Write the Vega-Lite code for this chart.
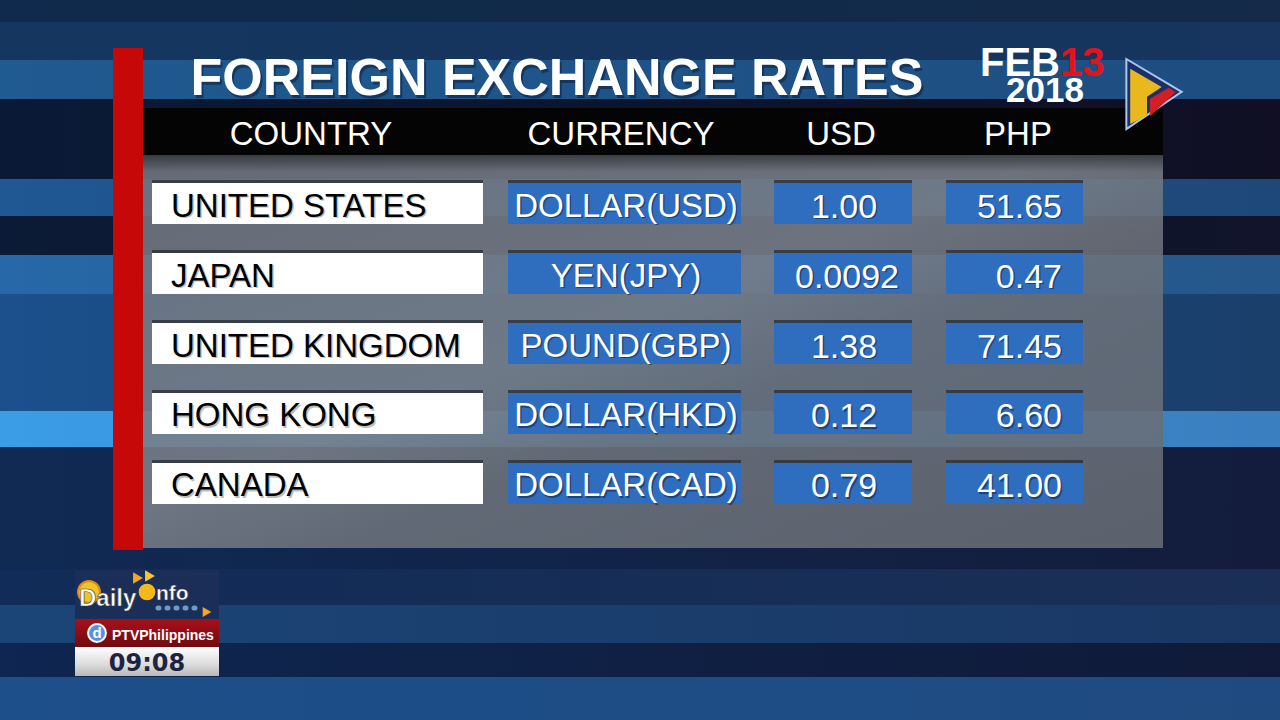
{
  "$schema": "https://vega.github.io/schema/vega-lite/v6.json",
  "width": 1280,
  "height": 720,
  "padding": 0,
  "autosize": {"type": "fit", "contains": "padding"},
  "background": "#10223f",
  "config": {
    "view": {"stroke": null},
    "axis": {"disable": true},
    "text": {"font": "Liberation Sans"}
  },
  "resolve": {"scale": {"y": "independent"}},
  "layer": [
    {
      "data": {"values": [{}]},
      "layer": [
        {
          "mark": {"type": "rect", "fill": {"gradient": "linear", "x1": 0, "y1": 0, "x2": 1, "y2": 0, "stops": [{"offset": 0, "color": "#0f2a4c"}, {"offset": 1, "color": "#142a48"}]}},
          "encoding": {
            "x": {"datum": 0, "type": "quantitative", "scale": {"domain": [0, 1280], "nice": false, "zero": false}, "axis": null},
            "x2": {"datum": 1280},
            "y": {"datum": 0, "type": "quantitative", "scale": {"domain": [0, 720], "nice": false, "zero": false, "reverse": true}, "axis": null},
            "y2": {"datum": 22}
          }
        },
        {
          "mark": {"type": "rect", "fill": {"gradient": "linear", "x1": 0, "y1": 0, "x2": 1, "y2": 0, "stops": [{"offset": 0, "color": "#14365f"}, {"offset": 1, "color": "#17355e"}]}},
          "encoding": {"x": {"datum": 0}, "x2": {"datum": 1280}, "y": {"datum": 22}, "y2": {"datum": 60}}
        },
        {
          "mark": {"type": "rect", "fill": {"gradient": "linear", "x1": 0, "y1": 0, "x2": 1, "y2": 0, "stops": [{"offset": 0, "color": "#1f5a90"}, {"offset": 1, "color": "#1e4d80"}]}},
          "encoding": {"x": {"datum": 0}, "x2": {"datum": 1280}, "y": {"datum": 60}, "y2": {"datum": 99}}
        },
        {
          "mark": {"type": "rect", "fill": {"gradient": "linear", "x1": 0, "y1": 0, "x2": 1, "y2": 0, "stops": [{"offset": 0, "color": "#0a1a36"}, {"offset": 1, "color": "#100f24"}]}},
          "encoding": {"x": {"datum": 0}, "x2": {"datum": 1280}, "y": {"datum": 99}, "y2": {"datum": 179}}
        },
        {
          "mark": {"type": "rect", "fill": {"gradient": "linear", "x1": 0, "y1": 0, "x2": 1, "y2": 0, "stops": [{"offset": 0, "color": "#1f5893"}, {"offset": 1, "color": "#1e4878"}]}},
          "encoding": {"x": {"datum": 0}, "x2": {"datum": 1280}, "y": {"datum": 179}, "y2": {"datum": 216}}
        },
        {
          "mark": {"type": "rect", "fill": {"gradient": "linear", "x1": 0, "y1": 0, "x2": 1, "y2": 0, "stops": [{"offset": 0, "color": "#0b1a36"}, {"offset": 1, "color": "#11142a"}]}},
          "encoding": {"x": {"datum": 0}, "x2": {"datum": 1280}, "y": {"datum": 216}, "y2": {"datum": 255}}
        },
        {
          "mark": {"type": "rect", "fill": {"gradient": "linear", "x1": 0, "y1": 0, "x2": 1, "y2": 0, "stops": [{"offset": 0, "color": "#2768a8"}, {"offset": 1, "color": "#25578a"}]}},
          "encoding": {"x": {"datum": 0}, "x2": {"datum": 1280}, "y": {"datum": 255}, "y2": {"datum": 294}}
        },
        {
          "mark": {"type": "rect", "fill": {"gradient": "linear", "x1": 0, "y1": 0, "x2": 1, "y2": 0, "stops": [{"offset": 0, "color": "#1b508c"}, {"offset": 1, "color": "#1a3f6b"}]}},
          "encoding": {"x": {"datum": 0}, "x2": {"datum": 1280}, "y": {"datum": 294}, "y2": {"datum": 411}}
        },
        {
          "mark": {"type": "rect", "fill": {"gradient": "linear", "x1": 0, "y1": 0, "x2": 1, "y2": 0, "stops": [{"offset": 0, "color": "#3a9de6"}, {"offset": 1, "color": "#3a7fc0"}]}},
          "encoding": {"x": {"datum": 0}, "x2": {"datum": 1280}, "y": {"datum": 411}, "y2": {"datum": 447}}
        },
        {
          "mark": {"type": "rect", "fill": {"gradient": "linear", "x1": 0, "y1": 0, "x2": 1, "y2": 0, "stops": [{"offset": 0, "color": "#102a54"}, {"offset": 1, "color": "#131c3c"}]}},
          "encoding": {"x": {"datum": 0}, "x2": {"datum": 1280}, "y": {"datum": 447}, "y2": {"datum": 569}}
        },
        {
          "mark": {"type": "rect", "fill": {"gradient": "linear", "x1": 0, "y1": 0, "x2": 1, "y2": 0, "stops": [{"offset": 0, "color": "#112c58"}, {"offset": 1, "color": "#1b2f55"}]}},
          "encoding": {"x": {"datum": 0}, "x2": {"datum": 1280}, "y": {"datum": 569}, "y2": {"datum": 605}}
        },
        {
          "mark": {"type": "rect", "fill": {"gradient": "linear", "x1": 0, "y1": 0, "x2": 1, "y2": 0, "stops": [{"offset": 0, "color": "#1a4577"}, {"offset": 1, "color": "#1a3763"}]}},
          "encoding": {"x": {"datum": 0}, "x2": {"datum": 1280}, "y": {"datum": 605}, "y2": {"datum": 643}}
        },
        {
          "mark": {"type": "rect", "fill": {"gradient": "linear", "x1": 0, "y1": 0, "x2": 1, "y2": 0, "stops": [{"offset": 0, "color": "#0e2650"}, {"offset": 1, "color": "#101a38"}]}},
          "encoding": {"x": {"datum": 0}, "x2": {"datum": 1280}, "y": {"datum": 643}, "y2": {"datum": 677}}
        },
        {
          "mark": {"type": "rect", "fill": {"gradient": "linear", "x1": 0, "y1": 0, "x2": 1, "y2": 0, "stops": [{"offset": 0, "color": "#1d4f8a"}, {"offset": 1, "color": "#1e4a80"}]}},
          "encoding": {"x": {"datum": 0}, "x2": {"datum": 1280}, "y": {"datum": 677}, "y2": {"datum": 720}}
        },
        {
          "mark": {"type": "rect", "opacity": 0.88, "fill": {"gradient": "linear", "x1": 0, "y1": 0, "x2": 1, "y2": 1, "stops": [{"offset": 0, "color": "#70767f"}, {"offset": 0.45, "color": "#7a8089"}, {"offset": 0.6, "color": "#6c727b"}, {"offset": 1, "color": "#656b74"}]}},
          "encoding": {"x": {"datum": 143}, "x2": {"datum": 1163}, "y": {"datum": 155}, "y2": {"datum": 548}}
        },
        {
          "mark": {"type": "rect", "fill": {"gradient": "linear", "x1": 0, "y1": 0, "x2": 0, "y2": 1, "stops": [{"offset": 0, "color": "rgba(0,0,0,0.45)"}, {"offset": 1, "color": "rgba(0,0,0,0)"}]}},
          "encoding": {"x": {"datum": 143}, "x2": {"datum": 1163}, "y": {"datum": 155}, "y2": {"datum": 172}}
        },
        {
          "mark": {"type": "rect", "fill": "#040404"},
          "encoding": {"x": {"datum": 143}, "x2": {"datum": 1163}, "y": {"datum": 108}, "y2": {"datum": 155}}
        },
        {
          "mark": {"type": "rect", "fill": "#c70808"},
          "encoding": {"x": {"datum": 113}, "x2": {"datum": 143}, "y": {"datum": 48}, "y2": {"datum": 550}}
        },
        {
          "mark": {"type": "text", "text": "FOREIGN EXCHANGE RATES", "fontSize": 52, "fontWeight": "bold", "align": "center", "baseline": "alphabetic", "fill": "#08122a", "opacity": 0.45, "dx": 2, "dy": 3},
          "encoding": {"x": {"datum": 557}, "y": {"datum": 95}}
        },
        {
          "mark": {"type": "text", "text": "FOREIGN EXCHANGE RATES", "fontSize": 52, "fontWeight": "bold", "align": "center", "baseline": "alphabetic", "fill": "#ffffff"},
          "encoding": {"x": {"datum": 557}, "y": {"datum": 95}}
        },
        {
          "mark": {"type": "text", "text": "COUNTRY", "fontSize": 33, "align": "center", "baseline": "alphabetic", "fill": "#ffffff"},
          "encoding": {"x": {"datum": 311}, "y": {"datum": 145}}
        },
        {
          "mark": {"type": "text", "text": "CURRENCY", "fontSize": 33, "align": "center", "baseline": "alphabetic", "fill": "#ffffff"},
          "encoding": {"x": {"datum": 621}, "y": {"datum": 145}}
        },
        {
          "mark": {"type": "text", "text": "USD", "fontSize": 33, "align": "center", "baseline": "alphabetic", "fill": "#ffffff"},
          "encoding": {"x": {"datum": 841}, "y": {"datum": 145}}
        },
        {
          "mark": {"type": "text", "text": "PHP", "fontSize": 33, "align": "center", "baseline": "alphabetic", "fill": "#ffffff"},
          "encoding": {"x": {"datum": 1018}, "y": {"datum": 145}}
        },
        {
          "mark": {"type": "text", "text": "FEB", "fontSize": 40, "fontWeight": "bold", "align": "right", "baseline": "alphabetic", "fill": "#ffffff"},
          "encoding": {"x": {"datum": 1060}, "y": {"datum": 76}}
        },
        {
          "mark": {"type": "text", "text": "13", "fontSize": 40, "fontWeight": "bold", "align": "left", "baseline": "alphabetic", "fill": "#e0141b"},
          "encoding": {"x": {"datum": 1060}, "y": {"datum": 76}}
        },
        {
          "mark": {"type": "text", "text": "2018", "fontSize": 35, "fontWeight": "bold", "align": "center", "baseline": "alphabetic", "fill": "#ffffff"},
          "encoding": {"x": {"datum": 1045}, "y": {"datum": 102}}
        },
        {
          "mark": {"type": "point", "shape": "M -0.79 -1 L 0.79 -0.06 L -0.79 1 Z", "filled": true, "fill": "#1d2f6b", "stroke": "#a7c8ea", "strokeWidth": 2, "size": 4900, "opacity": 1},
          "encoding": {"x": {"datum": 1154}, "y": {"datum": 94}}
        },
        {
          "mark": {"type": "point", "shape": "M -0.68 -0.72 L 0.22 -0.2 L -0.2 0.08 L -0.2 0.62 L -0.68 0.86 Z", "filled": true, "fill": "#e8b81e", "size": 4900, "opacity": 1},
          "encoding": {"x": {"datum": 1154}, "y": {"datum": 94}}
        },
        {
          "mark": {"type": "point", "shape": "M -0.12 0.14 L 0.42 -0.18 L 0.62 -0.06 L -0.12 0.64 Z", "filled": true, "fill": "#d21f26", "size": 4900, "opacity": 1},
          "encoding": {"x": {"datum": 1154}, "y": {"datum": 94}}
        },
        {
          "mark": {"type": "rect", "fill": "#1b2e58"},
          "encoding": {"x": {"datum": 75}, "x2": {"datum": 219}, "y": {"datum": 570}, "y2": {"datum": 619}}
        },
        {
          "mark": {"type": "rect", "fill": {"gradient": "linear", "x1": 0, "y1": 0, "x2": 0, "y2": 1, "stops": [{"offset": 0, "color": "#a8101a"}, {"offset": 1, "color": "#700a0f"}]}},
          "encoding": {"x": {"datum": 75}, "x2": {"datum": 219}, "y": {"datum": 619}, "y2": {"datum": 647}}
        },
        {
          "mark": {"type": "rect", "fill": {"gradient": "linear", "x1": 0, "y1": 0, "x2": 0, "y2": 1, "stops": [{"offset": 0, "color": "#ffffff"}, {"offset": 0.6, "color": "#dcdcdc"}, {"offset": 1, "color": "#b8b8b8"}]}},
          "encoding": {"x": {"datum": 75}, "x2": {"datum": 219}, "y": {"datum": 647}, "y2": {"datum": 676}}
        },
        {
          "mark": {"type": "point", "shape": "circle", "filled": true, "fill": "#f2c12e", "stroke": "#e08a10", "strokeWidth": 2, "size": 480, "opacity": 1},
          "encoding": {"x": {"datum": 89}, "y": {"datum": 592}}
        },
        {
          "mark": {"type": "point", "shape": "triangle-right", "filled": true, "fill": "#f5a623", "size": 130, "opacity": 1},
          "encoding": {"x": {"datum": 138}, "y": {"datum": 578}}
        },
        {
          "mark": {"type": "point", "shape": "triangle-right", "filled": true, "fill": "#f7c530", "size": 130, "opacity": 1},
          "encoding": {"x": {"datum": 150}, "y": {"datum": 576}}
        },
        {
          "mark": {"type": "point", "shape": "triangle-right", "filled": true, "fill": "#f5a623", "size": 100, "opacity": 1},
          "encoding": {"x": {"datum": 207}, "y": {"datum": 612}}
        },
        {
          "mark": {"type": "text", "text": "Daily", "fontSize": 24, "fontWeight": "bold", "align": "left", "baseline": "alphabetic", "fill": "#ffffff", "stroke": "#3a3a3a", "strokeWidth": 0.6},
          "encoding": {"x": {"datum": 79}, "y": {"datum": 606}}
        },
        {
          "mark": {"type": "point", "shape": "circle", "filled": true, "fill": "#f5b81c", "size": 280, "opacity": 1},
          "encoding": {"x": {"datum": 147}, "y": {"datum": 592}}
        },
        {
          "mark": {"type": "text", "text": "nfo", "fontSize": 21, "fontWeight": "bold", "align": "left", "baseline": "alphabetic", "fill": "#ffffff", "stroke": "#3a3a3a", "strokeWidth": 0.5},
          "encoding": {"x": {"datum": 156}, "y": {"datum": 600}}
        },
        {
          "mark": {"type": "rule", "stroke": "#6a9cc4", "strokeWidth": 5, "strokeDash": [1, 8], "strokeCap": "round"},
          "encoding": {"x": {"datum": 158}, "x2": {"datum": 200}, "y": {"datum": 608}}
        },
        {
          "mark": {"type": "point", "shape": "circle", "filled": true, "fill": "#5b8fdc", "stroke": "#ffffff", "strokeWidth": 2, "size": 320, "opacity": 1},
          "encoding": {"x": {"datum": 97}, "y": {"datum": 633}}
        },
        {
          "mark": {"type": "text", "text": "d", "fontSize": 15, "fontWeight": "bold", "align": "center", "baseline": "middle", "fill": "#ffffff"},
          "encoding": {"x": {"datum": 97}, "y": {"datum": 633}}
        },
        {
          "mark": {"type": "text", "text": "PTVPhilippines", "fontSize": 14, "fontWeight": "bold", "align": "left", "baseline": "alphabetic", "fill": "#ffffff"},
          "encoding": {"x": {"datum": 112}, "y": {"datum": 640}}
        },
        {
          "mark": {"type": "text", "text": "09:08", "font": "DejaVu Sans", "fontSize": 24, "fontWeight": "bold", "align": "center", "baseline": "alphabetic", "fill": "#1d2442"},
          "encoding": {"x": {"datum": 147}, "y": {"datum": 671}}
        }
      ]
    },
    {
      "data": {
        "values": [
          {"country": "UNITED STATES", "currency": "DOLLAR(USD)", "usd": 1.00, "php": 51.65},
          {"country": "JAPAN", "currency": "YEN(JPY)", "usd": 0.0092, "php": 0.47},
          {"country": "UNITED KINGDOM", "currency": "POUND(GBP)", "usd": 1.38, "php": 71.45},
          {"country": "HONG KONG", "currency": "DOLLAR(HKD)", "usd": 0.12, "php": 6.60},
          {"country": "CANADA", "currency": "DOLLAR(CAD)", "usd": 0.79, "php": 41.00}
        ]
      },
      "encoding": {
        "y": {
          "field": "country",
          "type": "nominal",
          "sort": null,
          "scale": {
            "domain": ["UNITED STATES", "JAPAN", "UNITED KINGDOM", "HONG KONG", "CANADA"],
            "range": [183, 504],
            "paddingInner": 0.414,
            "paddingOuter": 0
          },
          "axis": null
        }
      },
      "layer": [
        {"mark": {"type": "rect", "fill": "#2a3038", "opacity": 0.8, "yOffset": -3}, "encoding": {"x": {"datum": 152}, "x2": {"datum": 483}}},
        {"mark": {"type": "rect", "fill": "#2a3038", "opacity": 0.8, "yOffset": -3}, "encoding": {"x": {"datum": 508}, "x2": {"datum": 741}}},
        {"mark": {"type": "rect", "fill": "#2a3038", "opacity": 0.8, "yOffset": -3}, "encoding": {"x": {"datum": 774}, "x2": {"datum": 912}}},
        {"mark": {"type": "rect", "fill": "#2a3038", "opacity": 0.8, "yOffset": -3}, "encoding": {"x": {"datum": 946}, "x2": {"datum": 1083}}},
        {"mark": {"type": "rect", "fill": "#ffffff"}, "encoding": {"x": {"datum": 152}, "x2": {"datum": 483}}},
        {"mark": {"type": "rect", "fill": "#2f6dbf"}, "encoding": {"x": {"datum": 508}, "x2": {"datum": 741}}},
        {"mark": {"type": "rect", "fill": "#2f6dbf"}, "encoding": {"x": {"datum": 774}, "x2": {"datum": 912}}},
        {"mark": {"type": "rect", "fill": "#2f6dbf"}, "encoding": {"x": {"datum": 946}, "x2": {"datum": 1083}}},
        {
          "mark": {"type": "text", "fontSize": 33, "align": "left", "baseline": "alphabetic", "dx": 1.5, "dy": 14.5, "fill": "#000000", "opacity": 0.25},
          "encoding": {"x": {"datum": 171}, "text": {"field": "country"}}
        },
        {
          "mark": {"type": "text", "fontSize": 33, "align": "left", "baseline": "alphabetic", "dy": 13, "fill": "#000000"},
          "encoding": {"x": {"datum": 171}, "text": {"field": "country"}}
        },
        {
          "mark": {"type": "text", "fontSize": 33, "align": "center", "baseline": "alphabetic", "dx": 1.5, "dy": 14.5, "fill": "#0a1a35", "opacity": 0.5},
          "encoding": {"x": {"datum": 626}, "text": {"field": "currency"}}
        },
        {
          "mark": {"type": "text", "fontSize": 33, "align": "center", "baseline": "alphabetic", "dy": 13, "fill": "#ffffff"},
          "encoding": {"x": {"datum": 626}, "text": {"field": "currency"}}
        },
        {
          "transform": [{"filter": "datum.usd >= 0.01"}],
          "mark": {"type": "text", "fontSize": 34, "align": "center", "baseline": "alphabetic", "dx": 1.5, "dy": 15.5, "fill": "#0a1a35", "opacity": 0.5},
          "encoding": {"x": {"datum": 844}, "text": {"field": "usd", "type": "quantitative", "format": ".2f"}}
        },
        {
          "transform": [{"filter": "datum.usd >= 0.01"}],
          "mark": {"type": "text", "fontSize": 34, "align": "center", "baseline": "alphabetic", "dy": 14, "fill": "#ffffff"},
          "encoding": {"x": {"datum": 844}, "text": {"field": "usd", "type": "quantitative", "format": ".2f"}}
        },
        {
          "transform": [{"filter": "datum.usd < 0.01"}],
          "mark": {"type": "text", "fontSize": 34, "align": "center", "baseline": "alphabetic", "dx": 1.5, "dy": 15.5, "fill": "#0a1a35", "opacity": 0.5},
          "encoding": {"x": {"datum": 847}, "text": {"field": "usd", "type": "quantitative", "format": ".4f"}}
        },
        {
          "transform": [{"filter": "datum.usd < 0.01"}],
          "mark": {"type": "text", "fontSize": 34, "align": "center", "baseline": "alphabetic", "dy": 14, "fill": "#ffffff"},
          "encoding": {"x": {"datum": 847}, "text": {"field": "usd", "type": "quantitative", "format": ".4f"}}
        },
        {
          "mark": {"type": "text", "fontSize": 34, "align": "right", "baseline": "alphabetic", "dx": 1.5, "dy": 15.5, "fill": "#0a1a35", "opacity": 0.5},
          "encoding": {"x": {"datum": 1062}, "text": {"field": "php", "type": "quantitative", "format": ".2f"}}
        },
        {
          "mark": {"type": "text", "fontSize": 34, "align": "right", "baseline": "alphabetic", "dy": 14, "fill": "#ffffff"},
          "encoding": {"x": {"datum": 1062}, "text": {"field": "php", "type": "quantitative", "format": ".2f"}}
        }
      ]
    }
  ]
}
